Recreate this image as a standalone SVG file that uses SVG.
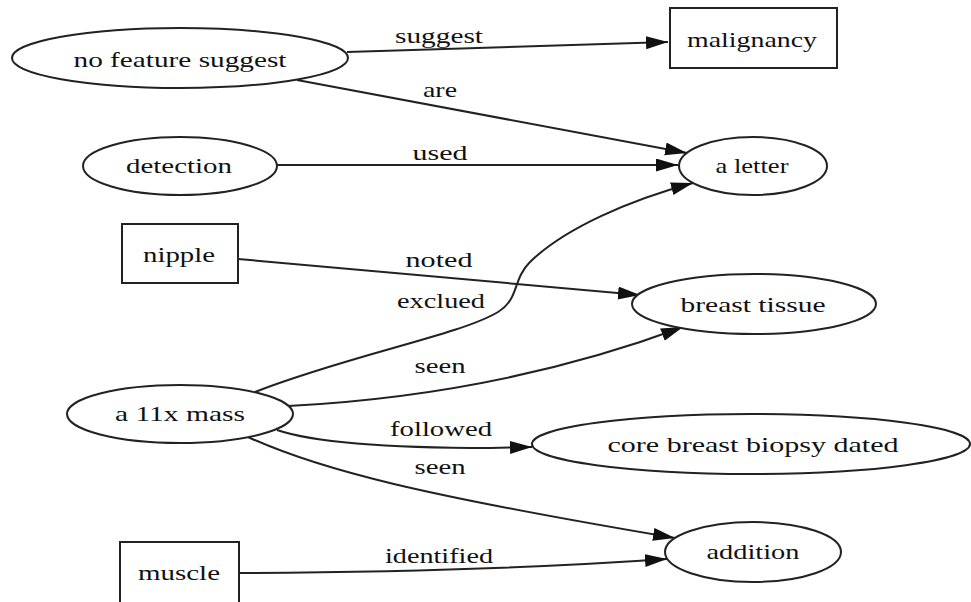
<svg xmlns="http://www.w3.org/2000/svg" width="971" height="602" viewBox="0 0 971 602">
<style>
.n{fill:#fff;stroke:#222;stroke-width:2}
.e{fill:none;stroke:#222;stroke-width:2}
text{font-family:"Liberation Serif","Times New Roman",serif;font-size:22px;fill:#111;text-anchor:middle}
</style>
<defs>
<marker id="ah" markerUnits="userSpaceOnUse" markerWidth="24" markerHeight="14" refX="22" refY="6.5" orient="auto">
<path d="M0,0 L22,6.5 L0,13 Z" fill="#111"/>
</marker>
</defs>
<rect width="971" height="602" fill="#fff"/>
<g id="edges">
<path class="e" d="M347,52 L668,42" marker-end="url(#ah)"/>
<text x="439" y="43" textLength="88" lengthAdjust="spacingAndGlyphs">suggest</text>
<path class="e" d="M297,80 L687,153" marker-end="url(#ah)"/>
<text x="440" y="97" textLength="34" lengthAdjust="spacingAndGlyphs">are</text>
<path class="e" d="M276,165 L678,165" marker-end="url(#ah)"/>
<text x="440" y="160" textLength="55" lengthAdjust="spacingAndGlyphs">used</text>
<path class="e" d="M238,259 L640,295" marker-end="url(#ah)"/>
<text x="439" y="267" textLength="67" lengthAdjust="spacingAndGlyphs">noted</text>
<path class="e" d="M255,392 C350,355 460,335 498,312 C520,298 512,280 530,262 C565,228 630,200 693,183" marker-end="url(#ah)"/>
<text x="441" y="308" textLength="88" lengthAdjust="spacingAndGlyphs">exclued</text>
<path class="e" d="M288,406 Q500,395 683,327" marker-end="url(#ah)"/>
<text x="440" y="373" textLength="51" lengthAdjust="spacingAndGlyphs">seen</text>
<path class="e" d="M277,430 Q330,448 490,448 L532,447" marker-end="url(#ah)"/>
<text x="441" y="436" textLength="102" lengthAdjust="spacingAndGlyphs">followed</text>
<path class="e" d="M248,437 C320,470 420,495 675,538" marker-end="url(#ah)"/>
<text x="440" y="474" textLength="51" lengthAdjust="spacingAndGlyphs">seen</text>
<path class="e" d="M239,573 Q480,572 667,559" marker-end="url(#ah)"/>
<text x="439" y="563" textLength="108" lengthAdjust="spacingAndGlyphs">identified</text>
</g>
<g id="node-no-feature-suggest">
<ellipse class="n" cx="180" cy="58" rx="168" ry="30"/>
<text x="180" y="67" textLength="213" lengthAdjust="spacingAndGlyphs">no feature suggest</text>
</g>
<g id="node-malignancy">
<rect class="n" x="670" y="8" width="167" height="60"/>
<text x="752" y="47" textLength="130" lengthAdjust="spacingAndGlyphs">malignancy</text>
</g>
<g id="node-detection">
<ellipse class="n" cx="180" cy="166" rx="97" ry="29"/>
<text x="179" y="173" textLength="106" lengthAdjust="spacingAndGlyphs">detection</text>
</g>
<g id="node-a-letter">
<ellipse class="n" cx="753" cy="166" rx="74" ry="29"/>
<text x="752" y="173" textLength="73" lengthAdjust="spacingAndGlyphs">a letter</text>
</g>
<g id="node-nipple">
<rect class="n" x="122" y="224" width="116" height="59"/>
<text x="179" y="262" textLength="72" lengthAdjust="spacingAndGlyphs">nipple</text>
</g>
<g id="node-breast-tissue">
<ellipse class="n" cx="754" cy="304" rx="122" ry="30"/>
<text x="753" y="312" textLength="145" lengthAdjust="spacingAndGlyphs">breast tissue</text>
</g>
<g id="node-a-11x-mass">
<ellipse class="n" cx="180" cy="414" rx="113" ry="29"/>
<text x="180" y="421" textLength="130" lengthAdjust="spacingAndGlyphs">a 11x mass</text>
</g>
<g id="node-core-breast-biopsy-dated">
<ellipse class="n" cx="751" cy="444" rx="219" ry="30"/>
<text x="753" y="452" textLength="291" lengthAdjust="spacingAndGlyphs">core breast biopsy dated</text>
</g>
<g id="node-addition">
<ellipse class="n" cx="753" cy="552" rx="88" ry="30"/>
<text x="753" y="559" textLength="93" lengthAdjust="spacingAndGlyphs">addition</text>
</g>
<g id="node-muscle">
<rect class="n" x="120" y="542" width="119" height="62"/>
<text x="179" y="580" textLength="82" lengthAdjust="spacingAndGlyphs">muscle</text>
</g>
</svg>
